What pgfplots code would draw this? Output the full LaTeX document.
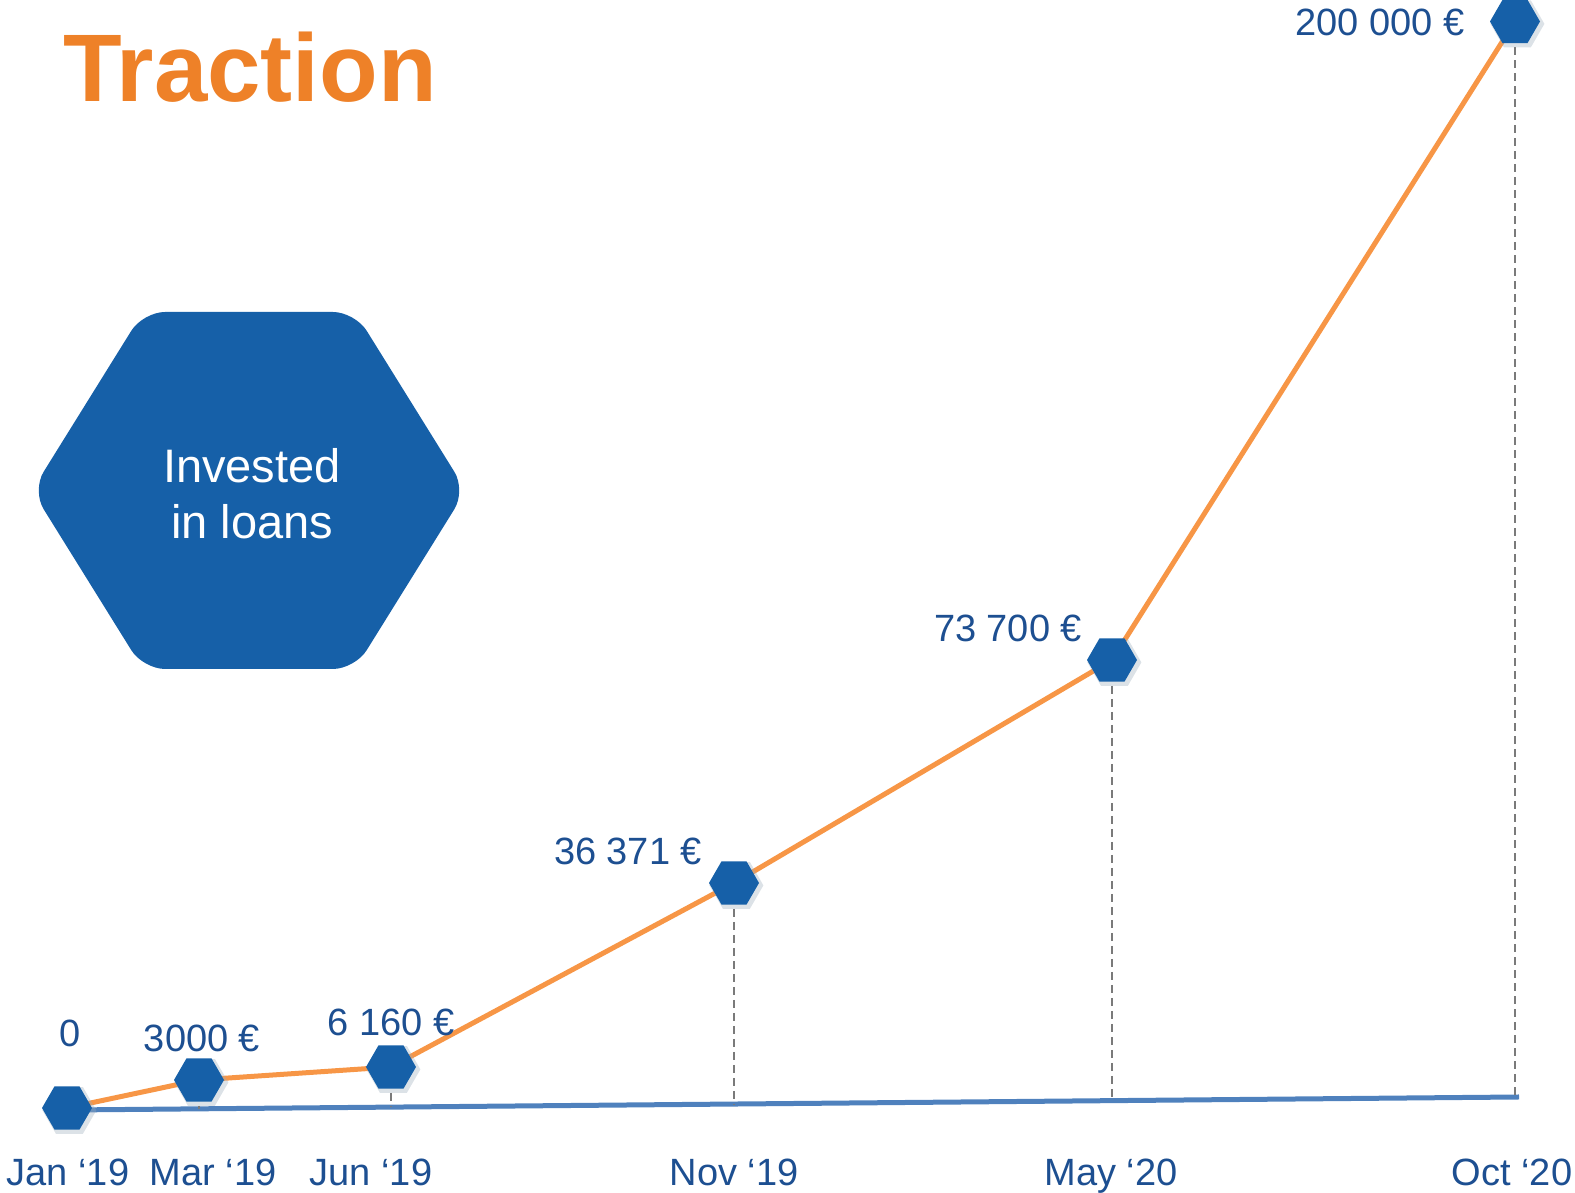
\documentclass[border=0pt]{standalone}
\usepackage{fontspec}
\setmainfont{Liberation Sans}
\usepackage{pgfplots}
\pgfplotsset{compat=1.18}
\definecolor{hexblue}{HTML}{1660A8}
\definecolor{txtblue}{HTML}{1D4F91}
\definecolor{lineorange}{HTML}{F79646}
\definecolor{titleorange}{HTML}{EE8128}
\definecolor{baseblue}{HTML}{4F81BD}
\definecolor{dropgray}{HTML}{7A7A7A}

% flat-topped hexagon marker
\pgfdeclareplotmark{hexagon}{%
  \pgfsetcornersarced{\pgfqpoint{1.5pt}{1.5pt}}%
  \pgfpathmoveto{\pgfqpoint{0pt}{0.866\pgfplotmarksize}}%
  \pgfpathlineto{\pgfqpoint{0.5\pgfplotmarksize}{0.866\pgfplotmarksize}}%
  \pgfpathlineto{\pgfqpoint{\pgfplotmarksize}{0pt}}%
  \pgfpathlineto{\pgfqpoint{0.5\pgfplotmarksize}{-0.866\pgfplotmarksize}}%
  \pgfpathlineto{\pgfqpoint{-0.5\pgfplotmarksize}{-0.866\pgfplotmarksize}}%
  \pgfpathlineto{\pgfqpoint{-\pgfplotmarksize}{0pt}}%
  \pgfpathlineto{\pgfqpoint{-0.5\pgfplotmarksize}{0.866\pgfplotmarksize}}%
  \pgfpathclose
  \pgfusepathqfill}

\newcommand{\lbl}{\fontsize{19}{22}\selectfont}

\begin{document}
\begin{tikzpicture}
\begin{axis}[scale only axis, width=787.5pt, height=596.5pt,
  xmin=0, xmax=1575, ymin=-13695, ymax=183150,
  axis line style={draw=none}, major tick length=0pt,
  ytick=\empty, scaled y ticks=false,
  xtick={68,213,371,734,1111,1512},
  xticklabels={Jan ‘19,Mar ‘19,Jun ‘19,Nov ‘19,May ‘20,Oct ‘20},
  xticklabel style={anchor=base, yshift=3.5pt, font=\lbl, text=txtblue},
  clip=false]

% big badge
\fill[hexblue, rounded corners=11pt] (axis cs:249,131670) -- (axis cs:355,131670) -- (axis cs:466,102218)
  -- (axis cs:355,72765) -- (axis cs:143,72765) -- (axis cs:32,102218) -- (axis cs:143,131670) -- cycle;
\node[anchor=base, text=white, font=\fontsize{23.5}{28}\selectfont] at (axis cs:252,103505) {Invested};
\node[anchor=base, text=white, font=\fontsize{23.5}{28}\selectfont] at (axis cs:252,94215) {in loans};

% title
\node[anchor=base west, text=titleorange, font=\fontsize{48}{56}\selectfont\bfseries, inner sep=0pt] at (axis cs:63,166370) {Traction};

% time axis
\addplot[baseblue, line width=2.5pt] coordinates {(70,0) (1519,2145)};

% drop lines
\addplot[dropgray, line width=1.45pt, dash pattern=on 4pt off 2.5pt, unbounded coords=jump] coordinates {
  (199,4950) (199,191) (199,nan)
  (391,7095) (391,475) (391,nan)
  (734,37455) (734,983) (734,nan)
  (1112,74250) (1112,1543) (1112,nan)
  (1515,179603) (1515,2140)};

% invested amount
\addplot[lineorange, line width=2.5pt] coordinates {
  (67,330) (199,4950) (391,7095) (734,37455) (1112,74250) (1515,179603)};
\addplot[only marks, mark=hexagon, mark size=13.5pt,
  mark options={fill=hexblue!35!gray!60, opacity=0.35, xshift=1.2pt, yshift=-1.2pt}] coordinates {
  (67,330) (199,4950) (391,7095) (734,37455) (1112,74250) (1515,179603)};
\addplot[only marks, mark=hexagon, mark size=12.5pt,
  mark options={fill=hexblue, draw=none}] coordinates {
  (67,330) (199,4950) (391,7095) (734,37455) (1112,74250) (1515,179603)};

\node[anchor=base, text=txtblue, font=\lbl] at (axis cs:70,10395) {0};
\node[anchor=base, text=txtblue, font=\lbl] at (axis cs:202,9570) {3000 €};
\node[anchor=base, text=txtblue, font=\lbl] at (axis cs:391,12210) {6 160 €};
\node[anchor=base, text=txtblue, font=\lbl] at (axis cs:628,40425) {36 371 €};
\node[anchor=base, text=txtblue, font=\lbl] at (axis cs:1008,77220) {73 700 €};
\node[anchor=base, text=txtblue, font=\lbl] at (axis cs:1380,177210) {200 000 €};
\end{axis}
\pgfresetboundingbox
\path[use as bounding box] (current axis.south west) rectangle (current axis.north east);
\end{tikzpicture}
\end{document}
